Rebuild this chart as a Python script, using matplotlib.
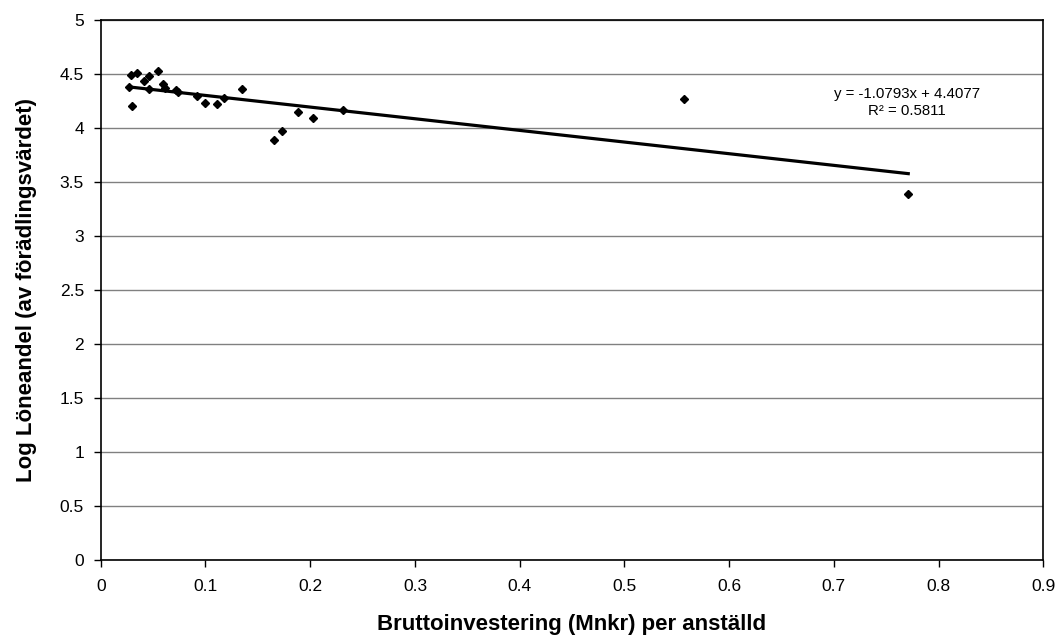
import numpy as np
import matplotlib
matplotlib.use("Agg")
import matplotlib.pyplot as plt

plt.rcParams['font.family'] = ['Liberation Sans', 'DejaVu Sans']

# Bruttoinvestering (Mnkr) per anställd
invest = [0.027, 0.030, 0.029, 0.035, 0.041, 0.046, 0.046, 0.055, 0.059, 0.061,
          0.072, 0.074, 0.092, 0.100, 0.111, 0.118, 0.135, 0.165, 0.173, 0.188,
          0.203, 0.231, 0.557, 0.771]
# Log Löneandel (av förädlingsvärdet)
log_lon = [4.374, 4.203, 4.49, 4.51, 4.43, 4.48, 4.356, 4.53, 4.41, 4.37,
           4.35, 4.33, 4.29, 4.23, 4.22, 4.28, 4.356, 3.883, 3.967, 4.145,
           4.087, 4.164, 4.265, 3.386]

# trendline as printed on the chart
slope = -1.0793
intercept = 4.4077
r2 = 0.5811

fig = plt.figure(figsize=(10.57, 6.39), dpi=100)
ax = fig.add_axes([0.0953, 0.124, 0.8918, 0.845])

ax.set_axisbelow(True)
ax.yaxis.grid(True, color='#808080', linewidth=1.0)

ax.plot(invest, log_lon, linestyle='none', marker='D', markersize=4.3,
        color='black', zorder=3)

xs = np.array([min(invest), max(invest)])
ax.plot(xs, slope * xs + intercept, color='black', linewidth=2.3, zorder=2)

ax.text(0.77, 4.235, "y = %.4fx + %.4f\nR² = %.4f" % (slope, intercept, r2),
        ha='center', va='center', ma='center', fontsize=10.8, linespacing=1.3)

ax.set_xlim(0, 0.9)
ax.set_ylim(0, 5)
ax.set_xticks(np.arange(0, 0.91, 0.1))
ax.set_xticklabels(['0', '0.1', '0.2', '0.3', '0.4', '0.5', '0.6', '0.7', '0.8', '0.9'])
ax.set_yticks(np.arange(0, 5.01, 0.5))
ax.set_yticklabels(['0', '0.5', '1', '1.5', '2', '2.5', '3', '3.5', '4', '4.5', '5'])
ax.tick_params(labelsize=12.5, length=5, width=1, color='black')
ax.tick_params(axis='x', pad=9)
ax.tick_params(axis='y', pad=7)

for s in ax.spines.values():
    s.set_color('black')
    s.set_linewidth(1.2)

ax.set_xlabel("Bruttoinvestering (Mnkr) per anställd", fontsize=16,
              fontweight='bold', labelpad=14)
ax.set_ylabel("Log Löneandel (av förädlingsvärdet)", fontsize=16,
              fontweight='bold', labelpad=16)

fig.savefig("out.png", dpi=100)
